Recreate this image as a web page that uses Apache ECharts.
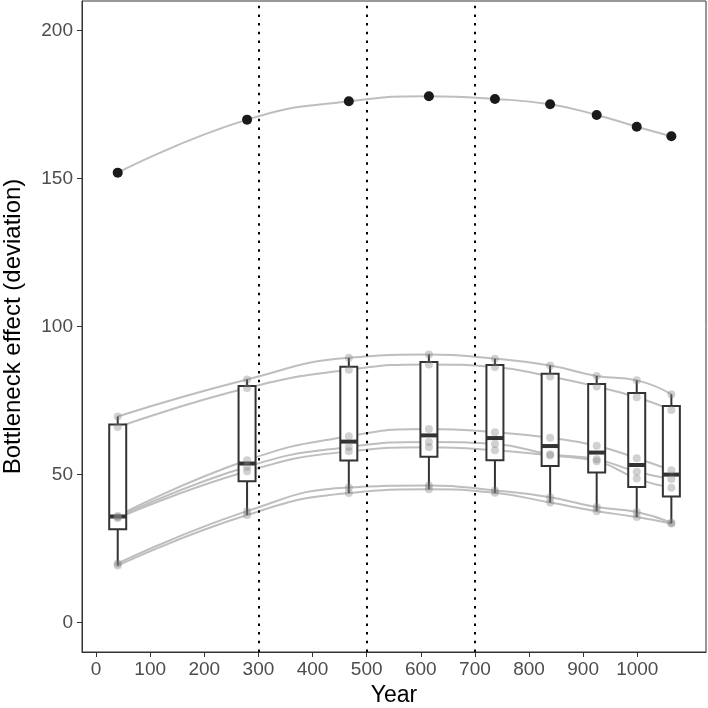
<!DOCTYPE html>
<html>
<head>
<meta charset="utf-8">
<script src="https://cdn.jsdelivr.net/npm/echarts@6/dist/echarts.min.js"></script>
<style>html,body{margin:0;padding:0;background:#fff}#c{width:708px;height:708px}</style>
</head>
<body>
<div id="c"></div>
<script>
// ---- data ----
const years = [40, 279, 467, 615, 737, 839, 925, 999, 1063];
const topSeries = [152.0, 169.9, 176.1, 177.8, 176.9, 175.1, 171.5, 167.5, 164.3];
const seriesA = [69.6, 82.1, 89.4, 90.5, 89.1, 86.8, 83.3, 81.8, 77.1];
const seriesB = [66.0, 79.2, 85.4, 87.2, 86.3, 83.1, 79.7, 76.1, 71.8];
const seriesC = [36.0, 54.8, 62.9, 65.4, 64.3, 62.4, 59.7, 55.5, 51.4];
const seriesD = [35.6, 52.6, 59.3, 61.0, 60.3, 56.8, 55.1, 50.9, 48.5];
const seriesE = [35.3, 51.1, 57.8, 59.2, 58.2, 56.4, 54.5, 48.6, 45.5];
const seriesF = [19.9, 37.6, 45.6, 46.3, 44.6, 42.3, 39.0, 37.3, 33.7];
const seriesG = [19.2, 36.3, 43.7, 45.0, 43.8, 40.5, 37.6, 35.6, 33.4];
const xTicks = [0, 100, 200, 300, 400, 500, 600, 700, 800, 900, 1000];
const yTicks = [0, 50, 100, 150, 200];
const refLines = [300, 500, 700];

const greySeries = [seriesA, seriesB, seriesC, seriesD, seriesE, seriesF, seriesG];
const allSeries = [topSeries].concat(greySeries);

// boxplot statistics (type-7 quantiles, 1.5 IQR whiskers)
function quantile(sorted, p) {
  const h = (sorted.length - 1) * p;
  const lo = Math.floor(h), hi = Math.ceil(h);
  return sorted[lo] + (h - lo) * (sorted[hi] - sorted[lo]);
}
const boxData = years.map((yr, i) => {
  const vals = allSeries.map(s => s[i]).sort((a, b) => a - b);
  const q1 = quantile(vals, 0.25), med = quantile(vals, 0.5), q3 = quantile(vals, 0.75);
  const iqr = q3 - q1;
  const lowW = Math.min.apply(null, vals.filter(v => v >= q1 - 1.5 * iqr));
  const highW = Math.max.apply(null, vals.filter(v => v <= q3 + 1.5 * iqr));
  return [yr, lowW, q1, med, q3, highW];
});

const lineColor = '#bebebe';
const series = [];

// smooth grey curves
allSeries.forEach((s) => {
  series.push({
    type: 'line', smooth: 0.5, symbol: 'none', z: 1, silent: true,
    data: years.map((y, i) => [y, s[i]]),
    lineStyle: { color: lineColor, width: 2 }
  });
});

// boxes
series.push({
  type: 'custom', z: 2, silent: true,
  data: boxData,
  renderItem: function (params, api) {
    const x = api.value(0);
    const p = v => api.coord([x, v]);
    const lo = p(api.value(1)), q1 = p(api.value(2)), md = p(api.value(3)), q3 = p(api.value(4)), hi = p(api.value(5));
    const hw = 8.5;
    const st = { stroke: '#333', lineWidth: 2, fill: null };
    return {
      type: 'group',
      children: [
        { type: 'line', shape: { x1: lo[0], y1: lo[1], x2: q1[0], y2: q1[1] }, style: st },
        { type: 'line', shape: { x1: q3[0], y1: q3[1], x2: hi[0], y2: hi[1] }, style: st },
        { type: 'rect', shape: { x: q1[0] - hw, y: q3[1], width: 2 * hw, height: q1[1] - q3[1] }, style: { fill: '#fff', stroke: '#333', lineWidth: 2 } },
        { type: 'line', shape: { x1: md[0] - hw, y1: md[1], x2: md[0] + hw, y2: md[1] }, style: { stroke: '#333', lineWidth: 4 } }
      ]
    };
  }
});

// grey points
const greyPts = [];
greySeries.forEach(s => years.forEach((y, i) => greyPts.push([y, s[i]])));
series.push({
  type: 'scatter', z: 3, silent: true, symbolSize: 8,
  data: greyPts,
  itemStyle: { color: 'rgba(128,128,128,0.45)' }
});

// black points + reference dotted lines
series.push({
  type: 'scatter', z: 5, silent: true, symbolSize: 10,
  data: years.map((y, i) => [y, topSeries[i]]),
  itemStyle: { color: '#1a1a1a', opacity: 1 },
  markLine: {
    silent: true, symbol: 'none', animation: false,
    label: { show: false },
    lineStyle: { color: '#000', type: [2.5, 6.2], width: 2, cap: 'butt' },
    data: refLines.map(v => ({ xAxis: v }))
  }
});

const fmt = v => String(v);
const chart = echarts.init(document.getElementById('c'), null, { renderer: 'canvas' });
chart.setOption({
  animation: false,
  backgroundColor: '#fff',
  grid: { left: 82, right: 2, top: 1, bottom: 56, containLabel: false, outerBoundsMode: 'none',
          show: true, borderColor: '#333', borderWidth: 1, backgroundColor: 'transparent' },
  xAxis: {
    type: 'value', min: -26, max: 1127,
    name: 'Year', nameLocation: 'middle', nameGap: 27,
    nameTextStyle: { color: '#000', fontSize: 23, fontFamily: 'Liberation Sans' },
    axisLine: { show: true, onZero: false, lineStyle: { color: '#333', width: 1 } },
    axisTick: { show: true, length: 5, lineStyle: { color: '#333' }, customValues: xTicks },
    axisLabel: { color: '#4d4d4d', fontSize: 19, fontFamily: 'Liberation Sans', margin: 8, customValues: xTicks, formatter: fmt },
    splitLine: { show: false }
  },
  yAxis: {
    type: 'value', min: -10, max: 210,
    name: 'Bottleneck effect (deviation)', nameLocation: 'middle', nameGap: 57,
    nameTextStyle: { color: '#000', fontSize: 24, fontFamily: 'Liberation Sans' },
    axisLine: { show: true, onZero: false, lineStyle: { color: '#333', width: 1 } },
    axisTick: { show: true, length: 5, lineStyle: { color: '#333' }, customValues: yTicks },
    axisLabel: { color: '#4d4d4d', fontSize: 19, fontFamily: 'Liberation Sans', margin: 9, customValues: yTicks, formatter: fmt },
    splitLine: { show: false }
  },
  series: series
});
</script>
</body>
</html>
